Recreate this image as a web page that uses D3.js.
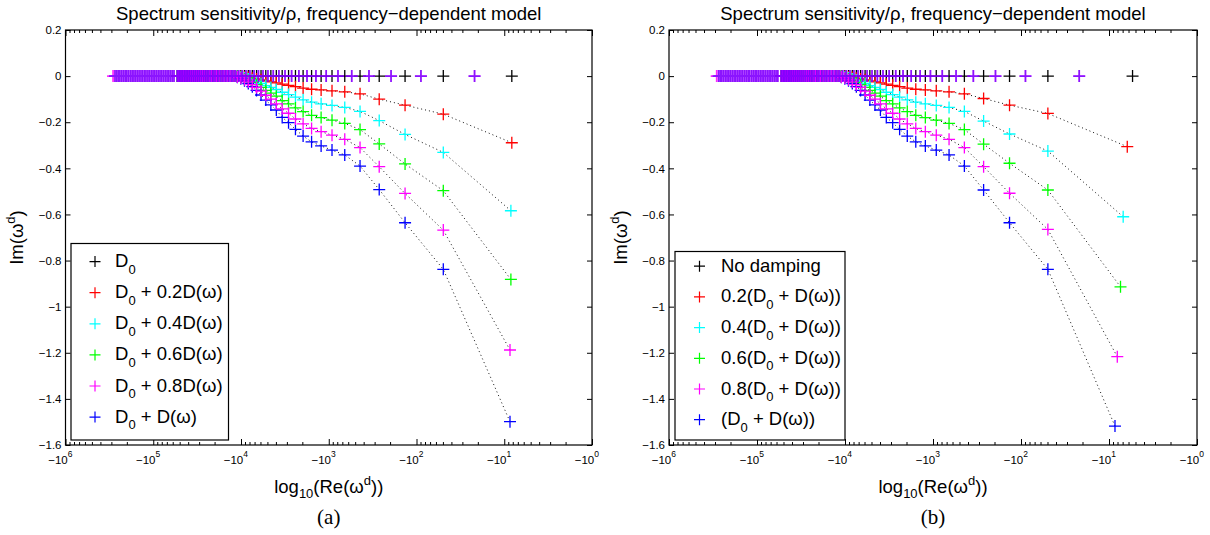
<!DOCTYPE html>
<html><head><meta charset="utf-8">
<script src="https://cdn.jsdelivr.net/npm/d3@7"></script>
<style>body{margin:0;background:#fff}svg{display:block}</style>
</head><body>
<svg id="chart" width="1210" height="535"></svg>
<script>
// ---------- DATA ----------
const seriesColors = ["#000000", "#ff0000", "#00ffff", "#00ff00", "#ff00ff", "#0000ff"];
// |Re(omega^d)| of modes 2..50 (shared by all series and both panels)
const modeRe = [49.5, 135, 266, 440, 657, 918, 1222, 1569, 1960, 2395, 2872, 3394, 3959, 4567, 5218, 5913, 6652, 7434, 8259, 9128,
  10040, 11000, 12000, 13040, 14120, 15250, 16430, 17640, 18900, 20200, 21550, 22940, 24380, 25850, 27370, 28940, 30540, 32190,
  33890, 35630, 37410, 39230, 41100, 43010, 44970, 46960, 49010, 51090, 53220];
// |Re| of mode 1 per series (black, red, cyan, green, magenta, blue)
const mode1ReA = [8.2, 8.2, 8.4, 8.4, 8.6, 8.6];
const mode1ReB = [5.4, 6.2, 6.9, 7.4, 8.05, 8.55];
// Im(omega^d) of modes 1..23 (higher modes sit on the real axis)
const imRedA = [-0.289, -0.165, -0.126, -0.100, -0.077, -0.068, -0.064, -0.060, -0.057, -0.052, -0.046, -0.040, -0.035, -0.029, -0.025, -0.021, -0.016, -0.012, -0.009, -0.006, -0.004, -0.002, -0.001];
const imCyanA = [-0.584, -0.331, -0.253, -0.193, -0.153, -0.136, -0.127, -0.120, -0.113, -0.103, -0.091, -0.080, -0.070, -0.058, -0.049, -0.041, -0.032, -0.024, -0.018, -0.012, -0.008, -0.004, -0.002];
const imGreenA = [-0.882, -0.497, -0.381, -0.294, -0.232, -0.205, -0.191, -0.180, -0.170, -0.154, -0.138, -0.120, -0.106, -0.087, -0.074, -0.062, -0.049, -0.037, -0.027, -0.019, -0.012, -0.006, -0.003];
const imMagentaA = [-1.188, -0.668, -0.509, -0.393, -0.310, -0.274, -0.256, -0.241, -0.227, -0.207, -0.186, -0.161, -0.142, -0.120, -0.100, -0.083, -0.065, -0.049, -0.037, -0.025, -0.016, -0.008, -0.004];
const imBlueA = [-1.499, -0.838, -0.636, -0.492, -0.390, -0.342, -0.321, -0.303, -0.285, -0.260, -0.231, -0.202, -0.179, -0.147, -0.125, -0.104, -0.082, -0.062, -0.046, -0.032, -0.020, -0.011, -0.005];
const imRedB = [-0.306, -0.162, -0.126, -0.097, -0.077, -0.068, -0.064, -0.060, -0.057, -0.052, -0.046, -0.040, -0.035, -0.029, -0.025, -0.021, -0.016, -0.012, -0.009, -0.006, -0.004, -0.002, -0.001];
const imCyanB = [-0.610, -0.325, -0.251, -0.195, -0.153, -0.136, -0.127, -0.120, -0.113, -0.103, -0.091, -0.080, -0.070, -0.058, -0.049, -0.041, -0.032, -0.024, -0.018, -0.012, -0.008, -0.004, -0.002];
const imGreenB = [-0.914, -0.494, -0.378, -0.295, -0.232, -0.205, -0.191, -0.180, -0.170, -0.154, -0.138, -0.120, -0.106, -0.087, -0.074, -0.062, -0.049, -0.037, -0.027, -0.019, -0.012, -0.006, -0.003];
const imMagentaB = [-1.217, -0.665, -0.508, -0.393, -0.310, -0.274, -0.256, -0.241, -0.227, -0.207, -0.186, -0.161, -0.142, -0.120, -0.100, -0.083, -0.065, -0.049, -0.037, -0.025, -0.016, -0.008, -0.004];
const imBlueB = [-1.518, -0.838, -0.636, -0.494, -0.390, -0.342, -0.321, -0.303, -0.285, -0.260, -0.231, -0.202, -0.179, -0.147, -0.125, -0.104, -0.082, -0.062, -0.046, -0.032, -0.020, -0.011, -0.005];
// real (overdamped / relaxation) poles on Im = 0, magenta & blue series
const realPolesLow = [21.8, 89, 195, 348, 547, 785, 1070, 1400, 1770, 2190, 2650, 3150, 3700, 4290, 4930, 5610, 6330, 7100, 7910,
  8770, 9670, 10600, 11600, 12600, 13700, 14800, 16000, 17200, 18400, 19700, 21000, 22400, 23800, 25300, 26800, 28400, 30000,
  31600, 33300, 35000, 36800, 38600, 40500, 42400, 44300, 46300, 48400, 50400, 52500];
const realPolesHigh = [58000, 60700, 63500, 66500, 69600, 72900, 76300, 79900, 83700, 87600, 91700, 96000, 100500, 105000, 110000,
  115000, 121000, 126000, 132000, 138000, 145000, 152000, 159000, 166000, 174000, 182000, 191000, 200000, 209000, 219000, 229000,
  240000, 251000, 262000, 273000];
const realPolesMagentaOnly = [287000];
// ticks & labels
const yTicks = [0.2, 0, -0.2, -0.4, -0.6, -0.8, -1, -1.2, -1.4, -1.6];
const xDecades = [6, 5, 4, 3, 2, 1, 0];
const legendA = [["D", "0", ""], ["D", "0", " + 0.2D(ω)"], ["D", "0", " + 0.4D(ω)"], ["D", "0", " + 0.6D(ω)"], ["D", "0", " + 0.8D(ω)"], ["D", "0", " + D(ω)"]];
const legendB = [["No damping", "", ""], ["0.2(D", "0", " + D(ω))"], ["0.4(D", "0", " + D(ω))"], ["0.6(D", "0", " + D(ω))"], ["0.8(D", "0", " + D(ω))"], ["(D", "0", " + D(ω))"]];
const titleText = "Spectrum sensitivity/ρ, frequency−dependent model";

// ---------- LAYOUT ----------
const FONT = "'Liberation Sans', Arial, Helvetica, sans-serif";
const plotTop = 30, plotBottom = 445;
const panels = [
  {x0: 65.5, x1: 592, mode1: mode1ReA, ims: [null, imRedA, imCyanA, imGreenA, imMagentaA, imBlueA], legend: legendA,
   lx0: 71, lx1: 228.5, ly0: 243.5, ly1: 440, lrow0: 261.6, lstep: 31.1, lmark: 95, ltext: 115, tag: "(a)"},
  {x0: 669, x1: 1197, mode1: mode1ReB, ims: [null, imRedB, imCyanB, imGreenB, imMagentaB, imBlueB], legend: legendB,
   lx0: 675, lx1: 845, ly0: 251.5, ly1: 440, lrow0: 266.2, lstep: 30.7, lmark: 699.5, ltext: 721, tag: "(b)"}
];
const svg = d3.select("#chart");
const plus = (s) => `M${-s},0H${s}M0,${-s}V${s}`;

function drawPanel(p) {
  const g = svg.append("g");
  const x = d3.scaleLog().domain([1e6, 1]).range([p.x0, p.x1]);
  const y = d3.scaleLinear().domain([-1.6, 0.2]).range([plotBottom, plotTop]);

  const pts = (i) => {
    const ims = p.ims[i];
    return d3.range(modeRe.length + 1).map(k => ({
      re: k === 0 ? p.mode1[i] : modeRe[k - 1],
      im: (ims && k < ims.length) ? ims[k] : 0
    }));
  };

  // dotted connecting lines
  const line = d3.line().x(d => x(d.re)).y(d => y(d.im));
  [1, 2, 3, 4, 5].forEach(i => {
    g.append("path").attr("d", line(pts(i))).attr("fill", "none")
      .attr("stroke", "#111").attr("stroke-width", 1).attr("stroke-dasharray", "1,3");
  });

  // markers
  [0, 1, 2, 3, 5, 4].forEach(i => {
    g.append("g").selectAll("path").data(pts(i)).join("path")
      .attr("d", plus(6)).attr("transform", d => `translate(${x(d.re)},${y(d.im)})`)
      .attr("fill", "none").attr("stroke", seriesColors[i]).attr("stroke-width", 1.3);
  });

  // real poles (magenta then blue, semi-transparent groups)
  const magPoles = realPolesLow.concat(realPolesHigh, realPolesMagentaOnly);
  const bluePoles = realPolesLow.concat(realPolesHigh);
  [[magPoles, seriesColors[4], 0.85], [bluePoles, seriesColors[5], 0.45]].forEach(([arr, col, op]) => {
    g.append("g").attr("opacity", op).selectAll("path").data(arr).join("path")
      .attr("d", plus(6)).attr("transform", d => `translate(${x(d)},${y(0)})`)
      .attr("fill", "none").attr("stroke", col).attr("stroke-width", 1.7);
  });

  // axes
  const majors = xDecades.map(e => Math.pow(10, e));
  const minors = [];
  for (let e = 0; e < 6; e++) for (let m = 2; m <= 9; m++) minors.push(m * Math.pow(10, e));
  const styleAxis = sel => { sel.select(".domain").remove(); sel.selectAll("line").attr("stroke", "#000").attr("stroke-width", 1); };
  g.append("g").attr("transform", `translate(0,${plotBottom})`)
    .call(d3.axisBottom(x).tickValues(majors).tickSizeInner(-6).tickSizeOuter(0).tickFormat("")).call(styleAxis);
  g.append("g").attr("transform", `translate(0,${plotBottom})`)
    .call(d3.axisBottom(x).tickValues(minors).tickSizeInner(-3).tickSizeOuter(0).tickFormat("")).call(styleAxis);
  g.append("g").attr("transform", `translate(0,${plotTop})`)
    .call(d3.axisTop(x).tickValues(majors).tickSizeInner(-6).tickSizeOuter(0).tickFormat("")).call(styleAxis);
  g.append("g").attr("transform", `translate(0,${plotTop})`)
    .call(d3.axisTop(x).tickValues(minors).tickSizeInner(-3).tickSizeOuter(0).tickFormat("")).call(styleAxis);

  const yfmt = d => d === 0 ? "0" : (d < 0 ? "−" : "") + (Math.abs(d) === 1 ? "1" : Math.abs(d).toFixed(1));
  const ya = g.append("g").attr("transform", `translate(${p.x0},0)`)
    .call(d3.axisLeft(y).tickValues(yTicks).tickSizeInner(-5).tickSizeOuter(0).tickPadding(4).tickFormat(yfmt)).call(styleAxis);
  ya.attr("font-family", FONT).attr("font-size", 11.5);
  ya.selectAll("text").attr("fill", "#000");
  g.append("g").attr("transform", `translate(${p.x1},0)`)
    .call(d3.axisRight(y).tickValues(yTicks).tickSizeInner(-5).tickSizeOuter(0).tickFormat("")).call(styleAxis);

  // x tick labels  −10^e
  const xl = g.append("g").selectAll("text").data(xDecades).join("text")
    .attr("x", e => x(Math.pow(10, e)) + 7).attr("y", 464).attr("text-anchor", "end")
    .attr("font-family", FONT).attr("font-size", 11.5).attr("fill", "#000");
  xl.append("tspan").text("−10");
  xl.append("tspan").attr("dy", -7).attr("font-size", 8.5).text(e => e);

  // frame
  g.append("rect").attr("x", p.x0).attr("y", plotTop).attr("width", p.x1 - p.x0).attr("height", plotBottom - plotTop)
    .attr("fill", "none").attr("stroke", "#000").attr("stroke-width", 1.2);

  // title
  const cx = (p.x0 + p.x1) / 2;
  g.append("text").attr("x", cx).attr("y", 20).attr("text-anchor", "middle")
    .attr("font-family", FONT).attr("font-size", 18.5).text(titleText);

  // x label
  const xlab = g.append("text").attr("x", cx).attr("y", 493).attr("text-anchor", "middle")
    .attr("font-family", FONT).attr("font-size", 18.5);
  xlab.append("tspan").text("log");
  xlab.append("tspan").attr("dy", 5).attr("font-size", 13).text("10");
  xlab.append("tspan").attr("dy", -5).text("(Re(ω");
  xlab.append("tspan").attr("dy", -8).attr("font-size", 13).text("d");
  xlab.append("tspan").attr("dy", 8).text("))");

  // y label
  const ylab = g.append("text").attr("transform", `translate(${p.x0 - 42.5},${(plotTop + plotBottom) / 2}) rotate(-90)`)
    .attr("text-anchor", "middle").attr("font-family", FONT).attr("font-size", 18.5);
  ylab.append("tspan").text("Im(ω");
  ylab.append("tspan").attr("dy", -8).attr("font-size", 13).text("d");
  ylab.append("tspan").attr("dy", 8).text(")");

  // panel tag
  g.append("text").attr("x", cx).attr("y", 524).attr("text-anchor", "middle")
    .attr("font-family", "'Liberation Serif', 'Times New Roman', serif").attr("font-size", 21).text(p.tag);

  // legend
  const lg = g.append("g");
  lg.append("rect").attr("x", p.lx0).attr("y", p.ly0).attr("width", p.lx1 - p.lx0).attr("height", p.ly1 - p.ly0)
    .attr("fill", "#fff").attr("stroke", "#000").attr("stroke-width", 1.2);
  p.legend.forEach((seg, i) => {
    const ry = p.lrow0 + i * p.lstep;
    lg.append("path").attr("d", plus(5.5)).attr("transform", `translate(${p.lmark},${ry})`)
      .attr("fill", "none").attr("stroke", seriesColors[i]).attr("stroke-width", 1.2);
    const t = lg.append("text").attr("x", p.ltext).attr("y", ry + 5.5)
      .attr("font-family", FONT).attr("font-size", 18.5);
    t.append("tspan").text(seg[0]);
    if (seg[1]) {
      t.append("tspan").attr("dy", 6.5).attr("font-size", 13).text(seg[1]);
      t.append("tspan").attr("dy", -6.5).text(seg[2]);
    }
  });
}
panels.forEach(drawPanel);
</script>
</body></html>
